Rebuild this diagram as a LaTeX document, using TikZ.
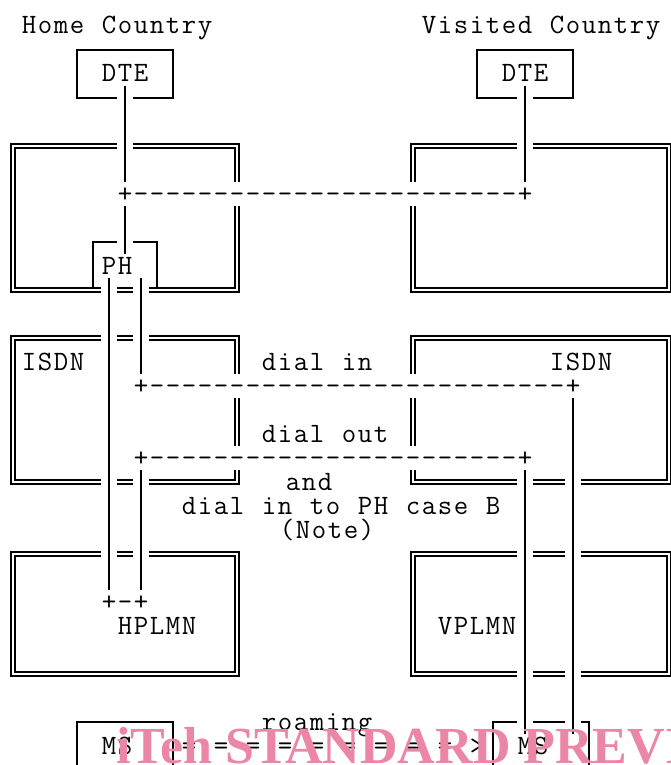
\documentclass[tikz,border=0pt]{standalone}
\usepackage{fontspec}
\newfontfamily\wmfont{Liberation Serif}
\definecolor{wm}{RGB}{236,134,166}
\ExplSyntaxOn
\NewDocumentCommand\gridtext{m}{\str_map_inline:nn{#1}{\makebox[16pt]{##1}}}
\ExplSyntaxOff
\begin{document}
\begin{tikzpicture}[x=1pt,y=-1pt,
  declare function={cx(\c)=13+16*\c; cy(\r)=26+24*\r;},
  txt/.style={anchor=base west, inner sep=0pt, outer sep=0pt, font=\ttfamily\fontsize{28pt}{24pt}\selectfont},
  sgl/.style={draw=black, line width=1.6pt},
  dbl/.style={draw=black, line width=1.3pt, double=white, double distance=2.6pt},
  wmark/.style={anchor=base west, inner sep=0pt, text=wm, font=\wmfont\bfseries\fontsize{52pt}{52pt}\selectfont}
]
\useasboundingbox (0,0) rectangle (670,765);

% ---------- texts ----------
\node[txt] (home) at ({cx(1)-8},{cy(0)+8}) {\gridtext{Home Country}};
\node[txt] (visited) at ({cx(26)-8},{cy(0)+8}) {\gridtext{Visited Country}};
\node[txt] (dteL) at ({cx(6)-8},{cy(2)+8}) {\gridtext{DTE}};
\node[txt] (dteR) at ({cx(31)-8},{cy(2)+8}) {\gridtext{DTE}};
\node[txt] (dashA) at ({cx(7)-8},{cy(7)+8}) {\gridtext{+------------------------+}};
\node[txt] (ph) at ({cx(6)-8},{cy(10)+8}) {\gridtext{PH}};
\node[txt] (isdnL) at ({cx(1)-8},{cy(14)+8}) {\gridtext{ISDN}};
\node[txt] (dialin) at ({cx(16)-8},{cy(14)+8}) {\gridtext{dial in}};
\node[txt] (isdnR) at ({cx(34)-8},{cy(14)+8}) {\gridtext{ISDN}};
\node[txt] (dashB) at ({cx(8)-8},{cy(15)+8}) {\gridtext{+--------------------------+}};
\node[txt] (dialout) at ({cx(16)-8},{cy(17)+8}) {\gridtext{dial out}};
\node[txt] (dashC) at ({cx(8)-8},{cy(18)+8}) {\gridtext{+-----------------------+}};
\node[txt] (and) at (285,{cy(19)+8}) {\gridtext{and}};
\node[txt] (dialph) at ({cx(11)-8},{cy(20)+8}) {\gridtext{dial in to PH case B}};
\node[txt] (note) at (279,{cy(21)+8}) {\gridtext{(Note)}};
\node[txt] (pmp) at ({cx(6)-8},{cy(24)+8}) {\gridtext{+-+}};
\node[txt] (hplmn) at ({cx(7)-8},{cy(25)+8}) {\gridtext{HPLMN}};
\node[txt] (vplmn) at ({cx(27)-8},{cy(25)+8}) {\gridtext{VPLMN}};
\node[txt] (roaming) at ({cx(16)-8},{cy(29)+8}) {\gridtext{roaming}};
\node[txt] (msL) at ({cx(6)-8},{cy(30)+8}) {\gridtext{MS}};
\node[txt] (arrow) at ({cx(11)-8},{cy(30)+8}) {\gridtext{= = = = = = = = = >}};
\node[txt] (msR) at ({cx(32)-8},{cy(30)+8}) {\gridtext{MS}};

% ---------- single boxes ----------
% DTE left
\draw[sgl] ({cx(7)-8},{cy(3)}) -- ({cx(4)},{cy(3)}) -- ({cx(4)},{cy(1)}) -- ({cx(10)},{cy(1)}) -- ({cx(10)},{cy(3)}) -- ({cx(7)+8},{cy(3)});
% DTE right
\draw[sgl] ({cx(32)-8},{cy(3)}) -- ({cx(29)},{cy(3)}) -- ({cx(29)},{cy(1)}) -- ({cx(35)},{cy(1)}) -- ({cx(35)},{cy(3)}) -- ({cx(32)+8},{cy(3)});
% PH box
\draw[sgl] ({cx(7)-8},{cy(9)}) -- ({cx(5)},{cy(9)}) -- ({cx(5)},{cy(11)-2.5});
\draw[sgl] ({cx(7)+8},{cy(9)}) -- ({cx(9)},{cy(9)}) -- ({cx(9)},{cy(11)-2.5});
% MS left
\draw[sgl] ({cx(4)},775) -- ({cx(4)},{cy(29)}) -- ({cx(10)},{cy(29)}) -- ({cx(10)},775);
% MS right
\draw[sgl] ({cx(30)},775) -- ({cx(30)},{cy(29)}) -- ({cx(31)+8},{cy(29)});
\draw[sgl] ({cx(32)+8},{cy(29)}) -- ({cx(34)+8},{cy(29)});
\draw[sgl] ({cx(35)+8},{cy(29)}) -- ({cx(36)},{cy(29)}) -- ({cx(36)},775);

% ---------- vertical connectors ----------
\draw[sgl] ({cx(7)},{cy(3)-12}) -- ({cx(7)},{cy(7)-12});
\draw[sgl] ({cx(7)},{cy(7)+12}) -- ({cx(7)},{cy(9)+12});
\draw[sgl] ({cx(32)},{cy(3)-12}) -- ({cx(32)},{cy(7)-12});
\draw[sgl] ({cx(6)},{cy(10)+12}) -- ({cx(6)},{cy(24)-12});
\draw[sgl] ({cx(8)},{cy(10)+12}) -- ({cx(8)},{cy(15)-12});
\draw[sgl] ({cx(8)},{cy(18)+12}) -- ({cx(8)},{cy(24)-12});
\draw[sgl] ({cx(32)},{cy(18)+12}) -- ({cx(32)},{cy(29)+12});
\draw[sgl] ({cx(35)},{cy(15)+12}) -- ({cx(35)},{cy(29)+12});

% ---------- double boxes ----------
% B1 home top
\draw[dbl] ({cx(7)-8},{cy(5)}) -- ({cx(0)},{cy(5)}) -- ({cx(0)},{cy(11)}) -- ({cx(5)+8},{cy(11)});
\draw[dbl] ({cx(7)+8},{cy(5)}) -- ({cx(14)},{cy(5)}) -- ({cx(14)},{cy(7)-12});
\draw[dbl] ({cx(14)},{cy(7)+12}) -- ({cx(14)},{cy(11)}) -- ({cx(9)-8},{cy(11)});
\draw[dbl] ({cx(7)-8},{cy(11)}) -- ({cx(7)+8},{cy(11)});
% B2 visited top
\draw[dbl] ({cx(32)-8},{cy(5)}) -- ({cx(25)},{cy(5)}) -- ({cx(25)},{cy(7)-12});
\draw[dbl] ({cx(25)},{cy(7)+12}) -- ({cx(25)},{cy(11)}) -- ({cx(41)},{cy(11)}) -- ({cx(41)},{cy(5)}) -- ({cx(32)+8},{cy(5)});
% B3 ISDN home
\draw[dbl] ({cx(5)+8},{cy(13)}) -- ({cx(0)},{cy(13)}) -- ({cx(0)},{cy(19)}) -- ({cx(5)+8},{cy(19)});
\draw[dbl] ({cx(7)-8},{cy(13)}) -- ({cx(7)+8},{cy(13)});
\draw[dbl] ({cx(7)-8},{cy(19)}) -- ({cx(7)+8},{cy(19)});
\draw[dbl] ({cx(9)-8},{cy(13)}) -- ({cx(14)},{cy(13)}) -- ({cx(14)},{cy(15)-12});
\draw[dbl] ({cx(14)},{cy(15)+12}) -- ({cx(14)},{cy(18)-12});
\draw[dbl] ({cx(14)},{cy(18)+12}) -- ({cx(14)},{cy(19)}) -- ({cx(9)-8},{cy(19)});
% B4 ISDN visited
\draw[dbl] ({cx(25)},{cy(15)-12}) -- ({cx(25)},{cy(13)}) -- ({cx(41)},{cy(13)}) -- ({cx(41)},{cy(19)}) -- ({cx(35)+8},{cy(19)});
\draw[dbl] ({cx(32)-8},{cy(19)}) -- ({cx(25)},{cy(19)}) -- ({cx(25)},{cy(18)+12});
\draw[dbl] ({cx(25)},{cy(18)-12}) -- ({cx(25)},{cy(15)+12});
\draw[dbl] ({cx(33)-8},{cy(19)}) -- ({cx(34)+8},{cy(19)});
% B5 HPLMN
\draw[dbl] ({cx(5)+8},{cy(22)}) -- ({cx(0)},{cy(22)}) -- ({cx(0)},{cy(27)}) -- ({cx(14)},{cy(27)}) -- ({cx(14)},{cy(22)}) -- ({cx(9)-8},{cy(22)});
\draw[dbl] ({cx(7)-8},{cy(22)}) -- ({cx(7)+8},{cy(22)});
% B6 VPLMN
\draw[dbl] ({cx(32)-8},{cy(22)}) -- ({cx(25)},{cy(22)}) -- ({cx(25)},{cy(27)}) -- ({cx(32)-8},{cy(27)});
\draw[dbl] ({cx(33)-8},{cy(22)}) -- ({cx(34)+8},{cy(22)});
\draw[dbl] ({cx(33)-8},{cy(27)}) -- ({cx(34)+8},{cy(27)});
\draw[dbl] ({cx(35)+8},{cy(22)}) -- ({cx(41)},{cy(22)}) -- ({cx(41)},{cy(27)}) -- ({cx(35)+8},{cy(27)});

% ---------- watermark ----------
\node[wmark] (wm) at (116,763) {iTeh STANDARD PREVIEW};
\end{tikzpicture}
\end{document}
